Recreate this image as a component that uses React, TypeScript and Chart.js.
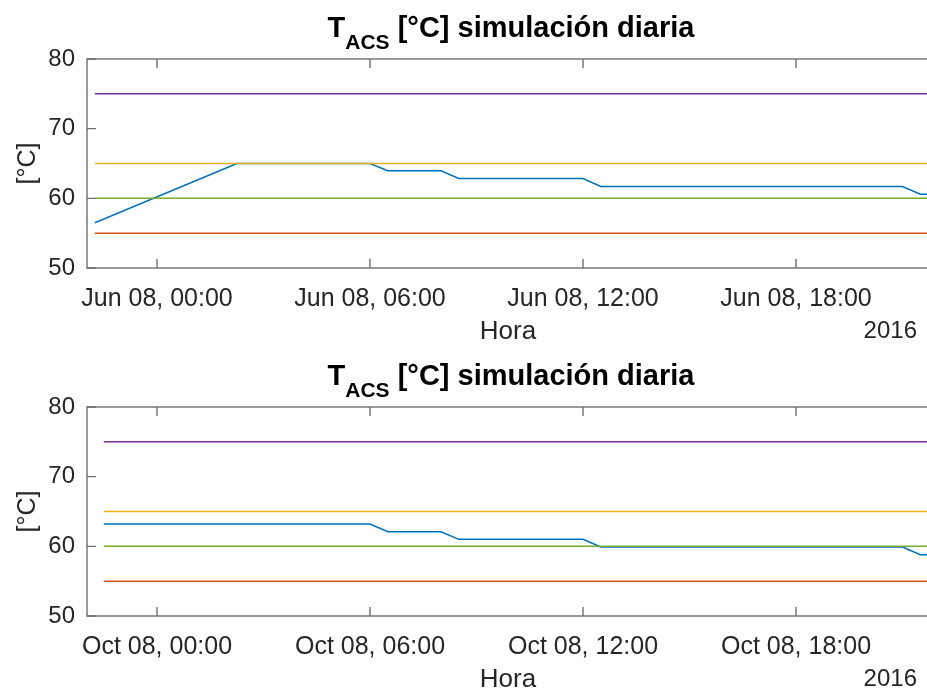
import React, { useEffect, useRef } from "react";
import { Chart, registerables } from "chart.js";

Chart.register(...registerables);

// ---- Data (hours relative to 00:00 of the simulated day) ----
const xTickValues = [0, 6, 12, 18];
const xTickLabelsJun = ["Jun 08, 00:00", "Jun 08, 06:00", "Jun 08, 12:00", "Jun 08, 18:00"];
const xTickLabelsOct = ["Oct 08, 00:00", "Oct 08, 06:00", "Oct 08, 12:00", "Oct 08, 18:00"];
const yTickValues = [50, 60, 70, 80];

const hoursJun = [-1.75, 2.25, 6, 6.5, 8, 8.5, 12, 12.5, 21, 21.5, 22.5];
const tempJun = [56.5, 65, 65, 63.95, 63.95, 62.85, 62.85, 61.7, 61.7, 60.6, 60.6];

const hoursOct = [-1.5, 6, 6.5, 8, 8.5, 12, 12.5, 21, 21.5, 22.5];
const tempOct = [63.2, 63.2, 62.1, 62.1, 61.0, 61.0, 59.9, 59.9, 58.8, 58.8];

const limitLevels = [60, 75, 65, 55]; // green, purple, yellow, orange
const limitColors = ["#77AC30", "#7E2F8E", "#EDB120", "#D95319"];
const seriesColor = "#0072BD";

const lineStartJun = -1.75;
const lineStartOct = -1.5;
const lineEnd = 22.5;

const yearLabel = "2016";
const xAxisTitle = "Hora";
const yAxisTitle = "[°C]";
const titleMain = "T";
const titleSub = "ACS";
const titleRest = " [°C] simulación diaria";

const FONT = '"Liberation Sans", Arial, Helvetica, sans-serif';
const TEXT = "#262626";
const AXIS = "#6f6f6f";

type PanelProps = {
  hours: number[];
  temps: number[];
  start: number;
  tickLabels: string[];
};

function Panel({ hours, temps, start, tickLabels }: PanelProps) {
  const ref = useRef<HTMLCanvasElement | null>(null);

  useEffect(() => {
    const canvas = ref.current;
    if (!canvas) return;

    const limitSets = limitLevels.map((lv, i) => ({
      data: [
        { x: start, y: lv },
        { x: lineEnd, y: lv },
      ],
      borderColor: limitColors[i],
      borderWidth: 1.5,
      pointRadius: 0,
      tension: 0,
    }));

    const mainSet = {
      data: hours.map((h, i) => ({ x: h, y: temps[i] })),
      borderColor: seriesColor,
      borderWidth: 1.5,
      pointRadius: 0,
      tension: 0,
    };

    const decor = {
      id: "decor",
      afterDraw(chart: any) {
        const { ctx, chartArea } = chart;
        const { left, right, top, bottom } = chartArea;
        const xs = chart.scales.x;
        const ys = chart.scales.y;
        ctx.save();
        // axes box
        ctx.strokeStyle = AXIS;
        ctx.lineWidth = 1.4;
        ctx.strokeRect(left, top, right - left, bottom - top);
        // inward ticks
        const tl = 9;
        ctx.beginPath();
        xTickValues.forEach((v) => {
          const px = xs.getPixelForValue(v);
          ctx.moveTo(px, bottom);
          ctx.lineTo(px, bottom - tl);
          ctx.moveTo(px, top);
          ctx.lineTo(px, top + tl);
        });
        yTickValues.forEach((v) => {
          const py = ys.getPixelForValue(v);
          ctx.moveTo(left, py);
          ctx.lineTo(left + tl, py);
        });
        ctx.stroke();

        const cx = (left + right) / 2;
        // title
        ctx.fillStyle = "#000";
        ctx.textBaseline = "alphabetic";
        ctx.textAlign = "left";
        const fMain = `bold 29px ${FONT}`;
        const fSub = `bold 21px ${FONT}`;
        ctx.font = fMain;
        const w1 = ctx.measureText(titleMain).width;
        const w3 = ctx.measureText(titleRest).width;
        ctx.font = fSub;
        const w2 = ctx.measureText(titleSub).width;
        const x0 = cx - (w1 + w2 + w3) / 2;
        ctx.font = fMain;
        ctx.fillText(titleMain, x0, 37);
        ctx.font = fSub;
        ctx.fillText(titleSub, x0 + w1, 49);
        ctx.font = fMain;
        ctx.fillText(titleRest, x0 + w1 + w2, 37);

        // x axis title
        ctx.fillStyle = TEXT;
        ctx.font = `26px ${FONT}`;
        ctx.textAlign = "center";
        ctx.fillText(xAxisTitle, cx - 3, 339);
        // year
        ctx.font = `24px ${FONT}`;
        ctx.textAlign = "right";
        ctx.fillText(yearLabel, 917, 338);
        // y axis title
        ctx.save();
        ctx.translate(28, (top + bottom) / 2);
        ctx.rotate(-Math.PI / 2);
        ctx.font = `25px ${FONT}`;
        ctx.textAlign = "center";
        ctx.textBaseline = "middle";
        ctx.fillText(yAxisTitle, 0, 0);
        ctx.restore();
        ctx.restore();
      },
    };

    const chart = new Chart(canvas, {
      type: "line",
      data: { datasets: [...limitSets, mainSet] as any },
      options: {
        animation: false,
        responsive: false,
        maintainAspectRatio: false,
        layout: { padding: { top: 59, right: 10, left: 0, bottom: 0 } },
        plugins: {
          legend: { display: false },
          title: { display: false },
          tooltip: { enabled: false },
        },
        scales: {
          x: {
            type: "linear",
            min: -1.972,
            max: 21.915,
            grid: { display: false, drawTicks: false },
            border: { display: false },
            afterBuildTicks: (s: any) => {
              s.ticks = xTickValues.map((v) => ({ value: v }));
            },
            afterFit: (s: any) => {
              s.height = 80;
            },
            ticks: {
              autoSkip: false,
              maxRotation: 0,
              padding: 16,
              color: TEXT,
              font: { family: FONT, size: 25 },
              callback: (v: any) => {
                const i = xTickValues.indexOf(Number(v));
                return i >= 0 ? tickLabels[i] : "";
              },
            },
          },
          y: {
            type: "linear",
            min: 50,
            max: 80,
            grid: { display: false, drawTicks: false },
            border: { display: false },
            afterBuildTicks: (s: any) => {
              s.ticks = yTickValues.map((v) => ({ value: v }));
            },
            afterFit: (s: any) => {
              s.width = 87;
            },
            ticks: {
              padding: 12,
              color: TEXT,
              font: { family: FONT, size: 24 },
            },
          },
        },
      },
      plugins: [decor],
    });

    return () => chart.destroy();
  }, [hours, temps, start, tickLabels]);

  return <canvas ref={ref} width={945} height={348} style={{ display: "block" }} />;
}

export default function App() {
  return (
    <div
      style={{
        position: "fixed",
        left: 0,
        top: 0,
        width: 927,
        height: 692,
        overflow: "hidden",
        background: "#fff",
      }}
    >
      <div style={{ position: "absolute", left: 0, top: 0 }}>
        <Panel hours={hoursJun} temps={tempJun} start={lineStartJun} tickLabels={xTickLabelsJun} />
      </div>
      <div style={{ position: "absolute", left: 0, top: 348 }}>
        <Panel hours={hoursOct} temps={tempOct} start={lineStartOct} tickLabels={xTickLabelsOct} />
      </div>
    </div>
  );
}
